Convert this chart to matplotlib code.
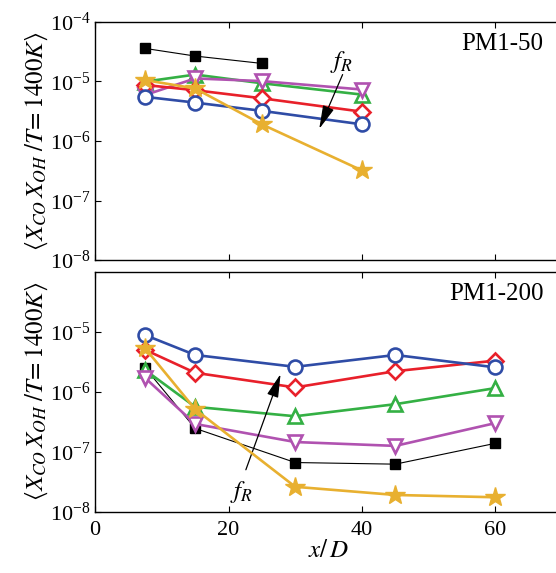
import numpy as np
import matplotlib
matplotlib.use("Agg")
from matplotlib import pyplot as plt
from matplotlib.ticker import NullLocator, FixedLocator

plt.rcParams['font.family'] = ['Liberation Serif', 'DejaVu Serif']
plt.rcParams['mathtext.fontset'] = 'stix'

# PM1-50 (top)
x_top = [7.5, 15, 25, 40]
top_black = [3.57e-5, 2.66e-5, 2.0e-5]
top_blue = [5.5e-6, 4.4e-6, 3.2e-6, 1.9e-6]
top_red = [8.7e-6, 7.1e-6, 5.2e-6, 3.1e-6]
top_green = [9.9e-6, 1.3e-5, 9.3e-6, 6.0e-6]
top_magenta = [5.9e-6, 1.12e-5, 1.01e-5, 7.3e-6]
top_yellow = [1.05e-5, 7.6e-6, 1.9e-6, 3.2e-7]

# PM1-200 (bottom)
x_bot = [7.5, 15, 30, 45, 60]
bot_blue = [8.8e-6, 4.1e-6, 2.6e-6, 4.1e-6, 2.55e-6]
bot_red = [5.0e-6, 2.07e-6, 1.18e-6, 2.2e-6, 3.3e-6]
bot_green = [2.3e-6, 5.6e-7, 3.9e-7, 6.2e-7, 1.15e-6]
bot_magenta = [1.7e-6, 2.9e-7, 1.45e-7, 1.25e-7, 3.0e-7]
bot_black = [2.5e-6, 2.45e-7, 6.6e-8, 6.2e-8, 1.38e-7]
bot_yellow = [5.3e-6, 5.1e-7, 2.6e-8, 1.9e-8, 1.74e-8]

c_blue = '#2f4ca6'
c_red = '#e8202a'
c_green = '#34b044'
c_mag = '#b052b0'
c_yel = '#e8b030'

fig = plt.figure(figsize=(5.56, 5.73), dpi=100)
ax1 = fig.add_axes([0.171, 0.546, 0.84, 0.416])
ax2 = fig.add_axes([0.171, 0.107, 0.84, 0.4187])

lw = 1.9
ms = 10
mew = 1.9


def draw(ax, x, black, blue, red, green, mag, yel):
    ax.plot(x[:len(black)], black, '-s', color='k', lw=0.8, ms=6.5, mfc='k', mec='k', zorder=3)
    ax.plot(x, yel, '-*', color=c_yel, lw=lw, ms=ms + 5, mfc=c_yel, mec=c_yel, zorder=4)
    ax.plot(x, green, '-^', color=c_green, lw=lw, ms=ms, mfc='white', mec=c_green, mew=mew, zorder=3)
    ax.plot(x, mag, '-v', color=c_mag, lw=lw, ms=ms, mfc='white', mec=c_mag, mew=mew, zorder=3)
    ax.plot(x, red, '-D', color=c_red, lw=lw, ms=ms - 2, mfc='white', mec=c_red, mew=mew, zorder=3)
    ax.plot(x, blue, '-o', color=c_blue, lw=lw, ms=ms, mfc='white', mec=c_blue, mew=mew, zorder=3)


draw(ax1, x_top, top_black, top_blue, top_red, top_green, top_magenta, top_yellow)
draw(ax2, x_bot, bot_black, bot_blue, bot_red, bot_green, bot_magenta, bot_yellow)

ylab = r'$\langle X_{CO}\,X_{OH}\;/T\!=1400K\rangle$'
for ax in (ax1, ax2):
    ax.set_yscale('log')
    ax.set_xlim(0, 70)
    ax.set_ylim(1e-8, 1e-4)
    ax.xaxis.set_major_locator(FixedLocator([0, 20, 40, 60]))
    ax.yaxis.set_minor_locator(NullLocator())
    ax.tick_params(direction='in', top=True, right=True, labelsize=16, length=4, width=0.8)
    ax.tick_params(axis='x', pad=7)
    for s in ax.spines.values():
        s.set_linewidth(1.0)
    ax.set_ylabel(ylab, fontsize=18, labelpad=0)

ax1.set_yticks([1e-8, 1e-7, 1e-6, 1e-5, 1e-4])
ax1.tick_params(labelbottom=False)
ax2.set_yticks([1e-8, 1e-7, 1e-6, 1e-5])
ax2.set_xlabel(r'$x/\,D$', fontsize=18, labelpad=0)

ax1.text(67.2, 4.3e-5, 'PM1-50', fontsize=18, ha='right', va='center')
ax2.text(67.2, 4.3e-5, 'PM1-200', fontsize=18, ha='right', va='center')

arrow = dict(arrowstyle='-|>,head_length=0.8,head_width=0.2', color='k', lw=0.9,
             mutation_scale=18, shrinkA=0, shrinkB=0)
ax1.annotate('', xy=(33.6, 1.6e-6), xytext=(37.1, 1.3e-5), arrowprops=arrow)
ax1.text(36.9, 2.1e-5, r'$f_R$', fontsize=18, ha='center', va='center')
ax2.annotate('', xy=(27.8, 1.97e-6), xytext=(22.6, 5.0e-8), arrowprops=arrow)
ax2.text(21.9, 2.15e-8, r'$f_R$', fontsize=18, ha='center', va='center')

plt.savefig('out.png', dpi=100)
